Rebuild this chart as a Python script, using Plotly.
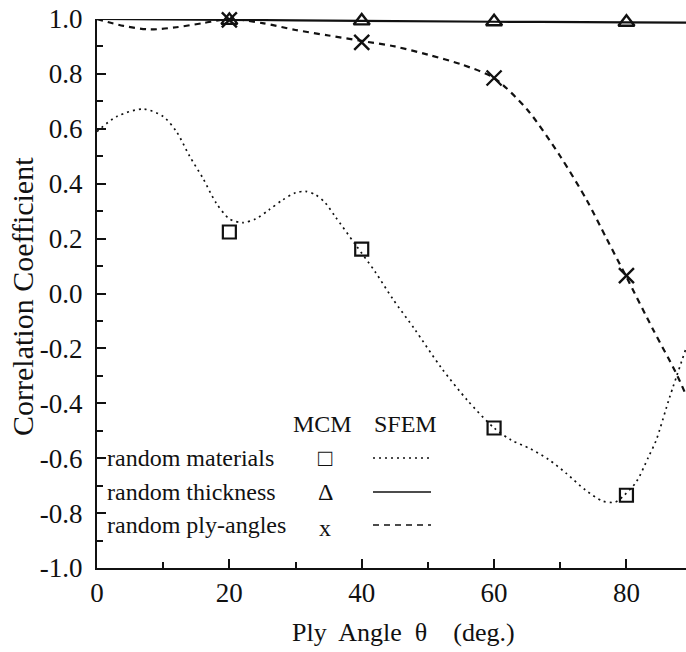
import plotly.graph_objects as go

# ---- data ----
angles_mcm = [20, 40, 60, 80]
mcm_materials = [0.224, 0.162, -0.49, -0.735]
mcm_thickness = [0.995, 0.993, 0.99, 0.988]
mcm_plyangles = [0.997, 0.915, 0.785, 0.065]

sfem_mat_x = [0, 3, 7, 10, 12, 14, 16, 18, 20, 22, 24, 26, 28, 30, 31.5, 33, 34.5, 36, 39, 42,
              44.7, 48, 52, 56, 60, 62.6, 65.5, 68.2, 70.9, 73.8, 76.4, 78.3, 79.7, 81.5,
              83.3, 84.5, 86.5, 89]
sfem_mat_y = [0.59, 0.645, 0.672, 0.645, 0.59, 0.5, 0.42, 0.33, 0.272, 0.258, 0.272, 0.305,
              0.34, 0.367, 0.372, 0.36, 0.33, 0.28, 0.18, 0.08, -0.02, -0.13, -0.27, -0.39,
              -0.49, -0.534, -0.566, -0.604, -0.655, -0.716, -0.756, -0.76, -0.734, -0.686,
              -0.597, -0.534, -0.38, -0.2]

sfem_thk_x = [0, 20, 40, 60, 80, 89]
sfem_thk_y = [1.0, 0.997, 0.993, 0.99, 0.988, 0.987]

sfem_ply_x = [0, 4, 8, 12, 16, 20, 25, 30, 35, 40, 45, 50, 55, 60, 65, 70, 74, 77, 80, 84,
              87.5, 89]
sfem_ply_y = [1.0, 0.975, 0.962, 0.97, 0.985, 1.0, 0.985, 0.96, 0.94, 0.92, 0.9, 0.87, 0.835,
              0.785, 0.67, 0.5, 0.34, 0.2, 0.06, -0.13, -0.29, -0.37]

y_tickvals = [1.0, 0.8, 0.6, 0.4, 0.2, 0.0, -0.2, -0.4, -0.6, -0.8, -1.0]
y_ticktext = ["1.0", "0.8", "0.6", "0.4", "0.2", "0.0", "-0.2", "-0.4", "-0.6", "-0.8", "-1.0"]
x_tickvals = [0, 20, 40, 60, 80]
x_ticktext = ["0", "20", "40", "60", "80"]

legend_rows = ["random materials", "random thickness", "random ply-angles"]
legend_symbols = ["\u25a1", "\u0394", "x"]
legend_dashes = ["2px,4px", "solid", "6px,5px"]

FONT = "Liberation Serif"
BLACK = "#111111"

fig = go.Figure()

fig.add_trace(go.Scatter(x=sfem_mat_x, y=sfem_mat_y, mode="lines",
                         line=dict(color=BLACK, width=1.7, dash="2px,4px", shape="spline", smoothing=0.8),
                         cliponaxis=False, showlegend=False))
fig.add_trace(go.Scatter(x=sfem_thk_x, y=sfem_thk_y, mode="lines",
                         line=dict(color=BLACK, width=2.2, shape="spline"),
                         cliponaxis=False, showlegend=False))
fig.add_trace(go.Scatter(x=sfem_ply_x, y=sfem_ply_y, mode="lines",
                         line=dict(color=BLACK, width=2.2, dash="6px,5px", shape="spline", smoothing=0.8),
                         cliponaxis=False, showlegend=False))

fig.add_trace(go.Scatter(x=angles_mcm, y=mcm_materials, mode="markers",
                         marker=dict(symbol="square-open", size=13, color=BLACK, line=dict(width=2.2)),
                         cliponaxis=False, showlegend=False))
fig.add_trace(go.Scatter(x=angles_mcm, y=mcm_thickness, mode="markers",
                         marker=dict(symbol="triangle-up-open", size=14, color=BLACK, line=dict(width=2.4)),
                         cliponaxis=False, showlegend=False))
fig.add_trace(go.Scatter(x=angles_mcm, y=mcm_plyangles, mode="markers",
                         marker=dict(symbol="x-thin-open", size=15, color=BLACK, line=dict(width=2.4)),
                         cliponaxis=False, showlegend=False))

# ---- legend drawn inside the plot ----
L, R, T, B = 97, 686, 19, 568
W, H = 686, 652


def px(xp):
    return (xp - L) / (R - L)


def py(yp):
    return (B - yp) / (B - T)


ann = []
ann.append(dict(x=px(322), y=py(424), text="MCM"))
ann.append(dict(x=px(405), y=py(424), text="SFEM"))
row_y = [458, 492, 525]
shapes = []
for i, name in enumerate(legend_rows):
    ann.append(dict(x=px(105), y=py(row_y[i]), text=name, xanchor="left"))
    ann.append(dict(x=px(325), y=py(row_y[i] + (3 if i == 2 else 0)), text=legend_symbols[i]))
    shapes.append(dict(type="line", xref="paper", yref="paper", x0=px(373), x1=px(431),
                       y0=py(row_y[i]), y1=py(row_y[i]),
                       line=dict(color=BLACK, width=1.7, dash=legend_dashes[i])))

annotations = []
for a in ann:
    d = dict(xref="paper", yref="paper", showarrow=False, xanchor=a.get("xanchor", "center"),
             yanchor="middle", font=dict(family=FONT, size=24, color=BLACK))
    d.update(a)
    annotations.append(d)

annotations.append(dict(xref="paper", yref="paper", x=px(403), y=py(632), showarrow=False,
                        text="Ply\u00a0 Angle\u00a0 \u03b8\u00a0\u00a0\u00a0 (deg.)",
                        font=dict(family=FONT, size=26, color=BLACK), xanchor="center", yanchor="middle"))
annotations.append(dict(xref="paper", yref="paper", x=px(22), y=py(297), showarrow=False,
                        text="Correlation Coefficient", textangle=-90,
                        font=dict(family=FONT, size=30, color=BLACK), xanchor="center", yanchor="middle"))

fig.update_layout(
    width=W, height=H,
    margin=dict(l=L, r=W - R, t=T, b=H - B, pad=0),
    paper_bgcolor="white", plot_bgcolor="white",
    annotations=annotations, shapes=shapes,
    font=dict(family=FONT, color=BLACK),
)

fig.update_xaxes(range=[0, 89], showgrid=False, zeroline=False, showline=True,
                 linecolor=BLACK, linewidth=2, ticks="inside", ticklen=9, tickwidth=1.8,
                 tickcolor=BLACK, tickmode="array", tickvals=x_tickvals, ticktext=x_ticktext,
                 tickfont=dict(family=FONT, size=27, color=BLACK), ticklabelstandoff=0,
                 minor=dict(ticks="inside", ticklen=6, tickwidth=1.5, tickcolor=BLACK,
                            tickmode="linear", tick0=0, dtick=10, showgrid=False))
fig.update_yaxes(range=[-1.0, 1.0], showgrid=False, zeroline=False, showline=True,
                 linecolor=BLACK, linewidth=2, ticks="inside", ticklen=9, tickwidth=1.8,
                 tickcolor=BLACK, tickmode="array", tickvals=y_tickvals, ticktext=y_ticktext,
                 tickfont=dict(family=FONT, size=27, color=BLACK), ticklabelstandoff=7,
                 minor=dict(ticks="inside", ticklen=6, tickwidth=1.5, tickcolor=BLACK,
                            tickmode="linear", tick0=0, dtick=0.1, showgrid=False))

fig.write_html("out.html")
